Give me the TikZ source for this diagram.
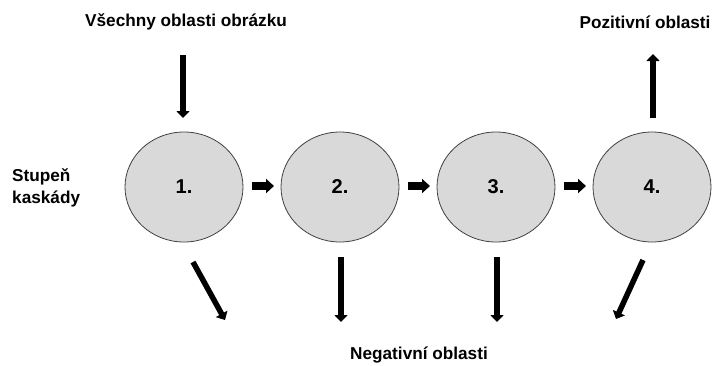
\documentclass[tikz,border=0pt]{standalone}
\usepackage{fontspec}
\setmainfont{Liberation Sans}
\usetikzlibrary{arrows.meta,shapes.geometric}
\definecolor{stagefill}{HTML}{D9D9D9}
\definecolor{stageline}{HTML}{404040}
\tikzset{
  stage/.style={ellipse, draw=stageline, line width=0.8pt, fill=stagefill,
    minimum width=118pt, minimum height=110pt, inner sep=0pt,
    font=\bfseries\fontsize{20}{22}\selectfont},
  lbl/.style={font=\bfseries\fontsize{17.2}{22}\selectfont, align=left, inner sep=0pt},
  bigarrow/.style={line width=5.5pt, -{Triangle[width=13pt,length=7pt]}},
  blockarrow/.style={line width=7.5pt, -{Triangle[width=14pt,length=8pt]}, shorten >=0pt}
}
\begin{document}
\begin{tikzpicture}[x=1pt,y=-1pt]
\useasboundingbox (0,0) rectangle (713,365);
% stages
\node[stage] (s1) at (184,187) {1.};
\node[stage] (s2) at (340,187) {2.};
\node[stage] (s3) at (496,187) {3.};
\node[stage] (s4) at (652,187) {4.};
% labels
\node[lbl] (all) at (186,22) {Všechny oblasti obrázku};
\node[lbl] (pos) at (645,22) {Pozitivní oblasti};
\node[lbl] (neg) at (419,355) {Negativní oblasti};
\node[lbl, anchor=west] (stup) at (12,188) {Stupeň\\kaskády};
% coordinates for arrow ends
\coordinate (inA) at (183,55);
\coordinate (inB) at (183,118);
\coordinate (outA) at (653,118);
\coordinate (outB) at (653,54);
\coordinate (n1a) at (193,262);
\coordinate (n1b) at (225,320);
\coordinate (n2a) at (341,257);
\coordinate (n2b) at (341,322);
\coordinate (n3a) at (497,257);
\coordinate (n3b) at (497,322);
\coordinate (n4a) at (643,260);
\coordinate (n4b) at (616,319);
\coordinate (h1a) at (252,186);
\coordinate (h1b) at (274,186);
\coordinate (h2a) at (408,186);
\coordinate (h2b) at (430,186);
\coordinate (h3a) at (564,186);
\coordinate (h3b) at (586,186);
% arrows
\draw[bigarrow] (inA) -- (inB);
\draw[bigarrow] (outA) -- (outB);
\draw[bigarrow] (n1a) -- (n1b);
\draw[bigarrow] (n2a) -- (n2b);
\draw[bigarrow] (n3a) -- (n3b);
\draw[bigarrow] (n4a) -- (n4b);
\draw[blockarrow] (h1a) -- (h1b);
\draw[blockarrow] (h2a) -- (h2b);
\draw[blockarrow] (h3a) -- (h3b);
\end{tikzpicture}
\end{document}
